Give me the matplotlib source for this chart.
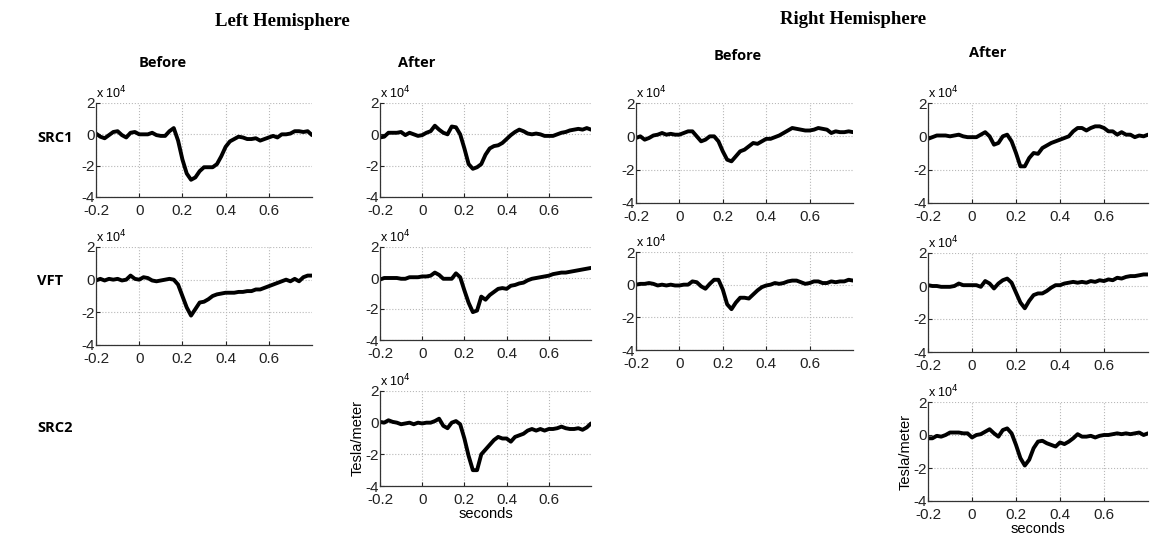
import numpy as np
import matplotlib
matplotlib.use("Agg")
import matplotlib.pyplot as plt

# time axis (seconds), 0.02 s steps from -0.2 to 0.8
t = np.round(np.arange(-0.2, 0.8001, 0.02), 2)

# amplitudes in units of 1e4 Tesla/meter
left_before_src1 = [0.05, -0.15, -0.25, -0.05, 0.15, 0.2, -0.05, -0.2, 0.1, 0.15,
                    0.0, 0.0, 0.0, 0.1, -0.05, -0.1, -0.1, 0.2, 0.4, -0.4,
                    -1.6, -2.5, -2.9, -2.75, -2.35, -2.1, -2.1, -2.1, -1.9, -1.4,
                    -0.8, -0.45, -0.3, -0.15, -0.2, -0.3, -0.3, -0.25, -0.4, -0.3,
                    -0.2, -0.1, -0.2, 0.0, 0.0, 0.05, 0.2, 0.2, 0.15, 0.2, -0.05]
left_after_src1 = [-0.2, -0.15, 0.1, 0.1, 0.1, 0.15, -0.05, 0.1, 0.0, -0.1,
                   -0.05, 0.1, 0.2, 0.55, 0.3, 0.1, 0.0, 0.5, 0.45, 0.0,
                   -0.9, -1.9, -2.2, -2.1, -1.9, -1.3, -0.9, -0.75, -0.7, -0.55,
                   -0.3, -0.05, 0.15, 0.3, 0.2, 0.05, 0.0, 0.05, 0.0, -0.1,
                   -0.1, -0.1, 0.0, 0.1, 0.15, 0.25, 0.3, 0.35, 0.3, 0.4, 0.3]
right_before_src1 = [-0.1, 0.0, -0.2, -0.1, 0.05, 0.1, 0.2, 0.1, 0.15, 0.1,
                     0.1, 0.2, 0.3, 0.3, 0.0, -0.3, -0.2, 0.0, 0.0, -0.3,
                     -0.9, -1.4, -1.5, -1.2, -0.9, -0.8, -0.6, -0.4, -0.45, -0.3,
                     -0.15, -0.15, -0.05, 0.05, 0.2, 0.35, 0.5, 0.45, 0.4, 0.35,
                     0.35, 0.4, 0.5, 0.45, 0.4, 0.2, 0.3, 0.25, 0.25, 0.3, 0.25]
right_after_src1 = [-0.15, -0.05, 0.05, 0.05, 0.05, 0.0, 0.05, 0.1, 0.0, -0.05,
                    -0.05, -0.05, 0.1, 0.25, 0.0, -0.5, -0.4, 0.0, 0.1, -0.3,
                    -1.0, -1.8, -1.8, -1.3, -1.0, -1.05, -0.7, -0.55, -0.4, -0.3,
                    -0.2, -0.1, 0.0, 0.3, 0.5, 0.5, 0.35, 0.5, 0.6, 0.6,
                    0.5, 0.3, 0.3, 0.1, 0.25, 0.1, 0.1, -0.05, 0.05, 0.0, 0.1]
left_before_vft = [-0.05, 0.05, -0.05, 0.05, 0.0, 0.05, -0.05, 0.0, 0.25, 0.05,
                   0.0, 0.15, 0.1, -0.05, -0.1, -0.05, 0.0, 0.05, 0.0, -0.3,
                   -1.0, -1.7, -2.2, -1.8, -1.4, -1.35, -1.2, -1.0, -0.9, -0.85,
                   -0.8, -0.8, -0.8, -0.75, -0.75, -0.7, -0.7, -0.6, -0.6, -0.5,
                   -0.4, -0.3, -0.2, -0.1, 0.0, -0.1, 0.05, -0.1, 0.15, 0.25, 0.25]
left_after_vft = [-0.1, 0.0, 0.0, 0.0, 0.0, -0.05, -0.05, 0.05, 0.05, 0.05,
                  0.1, 0.1, 0.15, 0.35, 0.2, -0.05, -0.05, -0.05, 0.3, 0.05,
                  -0.8, -1.6, -2.2, -2.1, -1.2, -1.4, -1.1, -0.9, -0.7, -0.65,
                  -0.7, -0.5, -0.45, -0.35, -0.3, -0.15, -0.05, 0.0, 0.05, 0.1,
                  0.15, 0.25, 0.3, 0.35, 0.35, 0.4, 0.45, 0.5, 0.55, 0.6, 0.65]
right_before_vft = [0.0, 0.05, 0.05, 0.1, 0.05, -0.05, 0.0, -0.05, 0.0, -0.05,
                    -0.05, 0.0, 0.0, 0.2, 0.15, -0.1, -0.25, 0.05, 0.3, 0.3,
                    -0.3, -1.2, -1.5, -1.1, -0.8, -0.8, -0.85, -0.6, -0.35, -0.15,
                    -0.05, 0.0, 0.1, 0.05, 0.1, 0.2, 0.25, 0.25, 0.15, 0.05,
                    0.1, 0.2, 0.2, 0.1, 0.1, 0.2, 0.15, 0.2, 0.2, 0.3, 0.25]
right_after_vft = [0.05, 0.0, 0.0, -0.05, -0.05, -0.05, 0.0, 0.15, 0.05, 0.05,
                   0.05, 0.05, -0.05, 0.3, 0.15, -0.15, 0.15, 0.35, 0.45, 0.2,
                   -0.4, -1.0, -1.35, -0.9, -0.55, -0.45, -0.45, -0.3, -0.1, 0.05,
                   0.05, 0.15, 0.2, 0.25, 0.2, 0.25, 0.2, 0.3, 0.25, 0.35,
                   0.3, 0.4, 0.35, 0.5, 0.45, 0.55, 0.6, 0.6, 0.65, 0.7, 0.7]
left_after_src2 = [0.05, 0.0, 0.15, 0.05, 0.0, -0.1, -0.05, 0.0, -0.1, 0.0,
                   -0.05, 0.0, 0.0, 0.1, 0.25, -0.2, -0.35, 0.0, 0.1, -0.1,
                   -1.0, -2.1, -3.0, -3.0, -2.0, -1.7, -1.4, -1.1, -0.9, -1.0,
                   -1.0, -1.2, -0.9, -0.8, -0.7, -0.5, -0.4, -0.5, -0.4, -0.5,
                   -0.4, -0.4, -0.35, -0.25, -0.35, -0.4, -0.4, -0.35, -0.45, -0.3, -0.05]
right_after_src2 = [-0.2, -0.2, -0.05, -0.1, 0.0, 0.15, 0.15, 0.15, 0.1, 0.1,
                    -0.15, 0.0, 0.05, 0.2, 0.35, 0.1, -0.1, 0.3, 0.4, 0.1,
                    -0.6, -1.4, -1.85, -1.5, -0.8, -0.4, -0.35, -0.5, -0.6, -0.7,
                    -0.45, -0.55, -0.4, -0.2, 0.05, -0.1, -0.1, -0.05, -0.15, -0.05,
                    0.0, 0.0, 0.05, 0.1, 0.05, 0.1, 0.05, 0.1, 0.15, 0.0, 0.1]

xticks = [-0.2, 0, 0.2, 0.4, 0.6]
xticklabels = ["-0.2", "0", "0.2", "0.4", "0.6"]
yticks = [-4, -2, 0, 2]

W, H = 1152, 537
fig = plt.figure(figsize=(W / 100, H / 100), dpi=100)

tickfont = "Liberation Sans"
tfs = 11


def panel(box, y, xlab=False):
    # box = left, top, right, bottom in pixels
    l, tp, r, b = box
    ax = fig.add_axes([l / W, 1 - b / H, (r - l) / W, (b - tp) / H])
    ax.plot(t, y, color="black", lw=2.8, solid_capstyle="round")
    ax.set_xlim(-0.2, 0.8)
    ax.set_ylim(-4, 2)
    ax.set_xticks(xticks)
    ax.set_xticklabels(xticklabels, fontfamily=tickfont, fontsize=tfs)
    ax.set_yticks(yticks)
    ax.set_yticklabels([str(v) for v in yticks], fontfamily=tickfont, fontsize=tfs)
    ax.tick_params(direction="in", length=3, width=0.8, colors="#222222")
    ax.tick_params(axis="x", pad=5)
    ax.tick_params(axis="y", pad=1)
    ax.grid(True, ls=":", color="#b8b8b8", lw=0.8)
    for s in ["top", "right"]:
        ax.spines[s].set_visible(False)
    for s in ["left", "bottom"]:
        ax.spines[s].set_color("#333333")
        ax.spines[s].set_linewidth(0.9)
    ax.text(0.0, 1.02, r"x 10$^4$", transform=ax.transAxes, ha="left", va="bottom",
            fontfamily=tickfont, fontsize=9)
    if xlab:
        ax.set_xlabel("seconds", fontfamily=tickfont, fontsize=10.5, labelpad=0)
        ax.set_ylabel("Tesla/meter", fontfamily=tickfont, fontsize=10.5, labelpad=0)
    return ax


panel((96, 103, 312, 197), left_before_src1)
panel((380, 103, 591, 197), left_after_src1)
panel((636, 103, 853, 203), right_before_src1)
panel((928, 103, 1148, 203), right_after_src1)
panel((96, 247, 312, 345), left_before_vft)
panel((380, 247, 591, 340), left_after_vft)
panel((636, 252, 853, 350), right_before_vft)
panel((928, 253, 1148, 352), right_after_vft)
panel((380, 391, 591, 486), left_after_src2, xlab=True)
panel((928, 402, 1148, 501), right_after_src2, xlab=True)

# headings
serif = dict(fontfamily="Liberation Serif", fontweight="bold", fontsize=13.5, ha="center", va="center")
sans = dict(fontfamily="Open Sans", fontweight="bold", fontsize=10.5, ha="center", va="center")
fig.text(282 / W, 1 - 22 / H, "Left Hemisphere", **serif)
fig.text(853 / W, 1 - 20 / H, "Right Hemisphere", **serif)
fig.text(163 / W, 1 - 63 / H, "Before", **sans)
fig.text(417 / W, 1 - 63 / H, "After", **sans)
fig.text(738 / W, 1 - 56 / H, "Before", **sans)
fig.text(988 / W, 1 - 53 / H, "After", **sans)

rowlab = dict(fontfamily="Open Sans", fontweight="bold", fontsize=10.5, ha="left", va="center")
fig.text(37 / W, 1 - 138 / H, "SRC1", **rowlab)
fig.text(37 / W, 1 - 281 / H, "VFT", **rowlab)
fig.text(37 / W, 1 - 428 / H, "SRC2", **rowlab)

fig.savefig("out.png", dpi=100)
